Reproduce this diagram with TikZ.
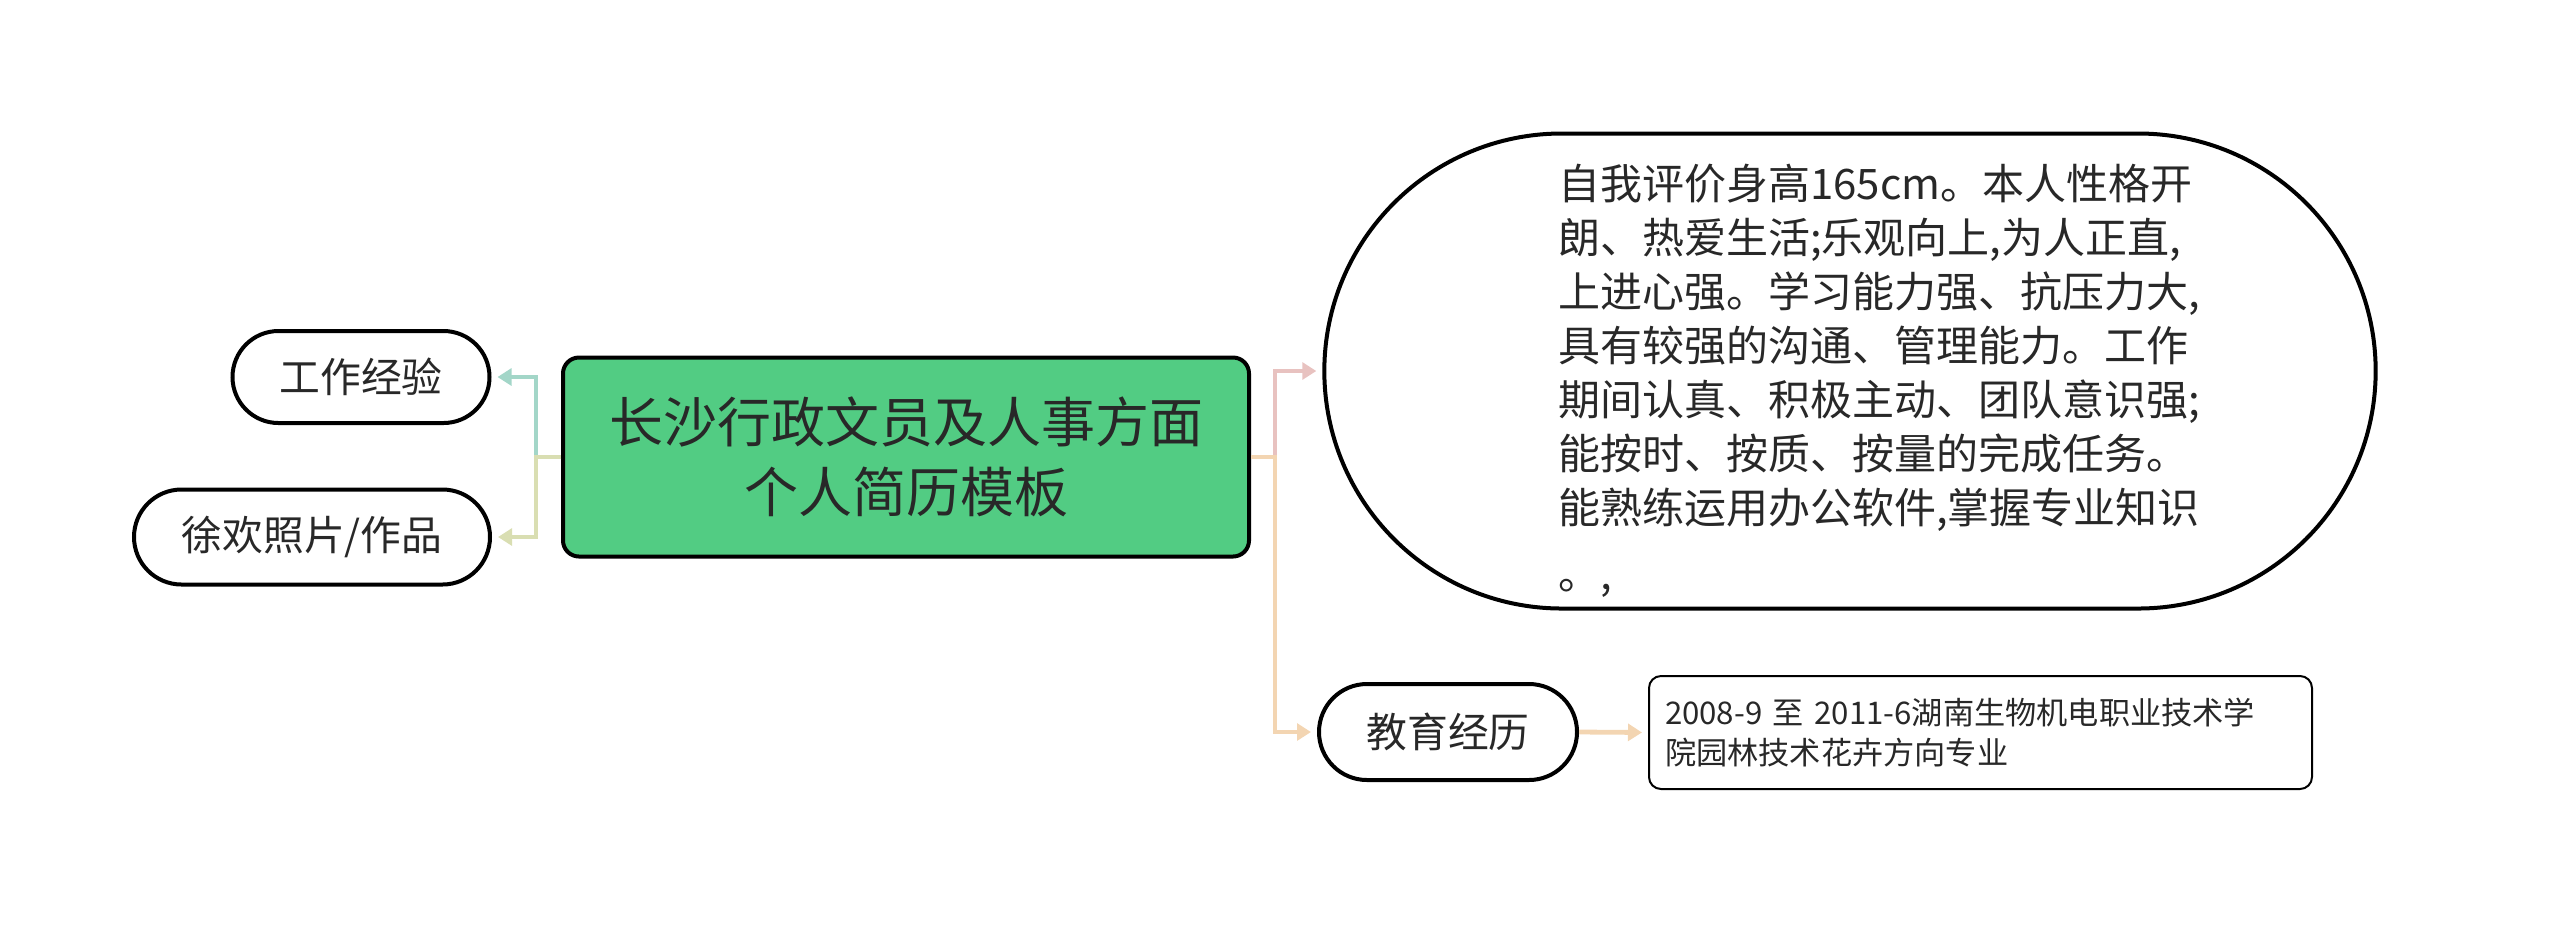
\documentclass[tikz,border=0pt]{standalone}
\usepackage{fontspec}
\setmainfont{Noto Sans CJK SC}
\usetikzlibrary{shapes.misc,arrows.meta}

\definecolor{maingreen}{RGB}{82,204,131}
\definecolor{linkteal}{RGB}{163,214,200}
\definecolor{linkkhaki}{RGB}{217,222,178}
\definecolor{linkpink}{RGB}{232,194,192}
\definecolor{linkpeach}{RGB}{243,213,178}
\definecolor{textgray}{RGB}{40,40,40}

\tikzset{every picture/.style={line width=1pt}}

\begin{document}
\begin{tikzpicture}[x=0.25pt,y=-0.25pt,
  pill/.style={rounded rectangle, draw=black, line width=1pt, fill=white, inner sep=0pt,
    text=textgray, font=\fontsize{10.2pt}{12pt}\selectfont},
  link/.style={line width=1.2pt, -{Triangle[length=3.5pt,width=4.2pt]}, shorten >=1.5pt}]
\useasboundingbox (0,0) rectangle (2560,924);

%Shape: central topic
\node [draw=black, line width=1pt, fill=maingreen, rounded corners=4pt, minimum width=171.5pt,
  minimum height=49.75pt, align=center, text=textgray, font=\fontsize{13.5pt}{17.5pt}\selectfont]
  (main) at (906,457) {长沙行政文员及人事方面\\个人简历模板};

%Shape: left branches
\node [pill, minimum width=64.25pt, minimum height=23pt] (work) at (361,377) {工作经验};
\node [pill, minimum width=89pt, minimum height=23.75pt] (photo) at (312,537) {徐欢照片/作品};

%Shape: right branches
\node [rounded rectangle, draw=black, line width=1pt, minimum width=269.5pt,
  minimum height=118.75pt] (eval) at (1850,371) {};
\node [align=left, inner sep=0pt, text=textgray, font=\fontsize{10.5pt}{13.5pt}\selectfont]
  (evaltext) at (1879,381) {自我评价身高165cm。本人性格开\\朗、热爱生活;乐观向上,为人正直,\\上进心强。学习能力强、抗压力大,\\具有较强的沟通、管理能力。工作\\期间认真、积极主动、团队意识强;\\能按时、按质、按量的完成任务。\\能熟练运用办公软件,掌握专业知识\\[3pt]。,};
\node [pill, minimum width=64.5pt, minimum height=24pt] (edu) at (1448,732) {教育经历};
\node [draw=black, line width=0.5pt, rounded corners=3pt, text width=157.75pt, inner sep=4pt,
  minimum height=28.25pt, align=left, text=textgray, font=\fontsize{7.8pt}{10.2pt}\selectfont]
  (eduinfo) at (1980.5,732.5) {2008-9 至 2011-6湖南生物机电职业技术学\\院园林技术花卉方向专业};

%Straight Lines: connectors
\draw [link, linkteal] (main.west) -- ++(-25,0) |- (work.east);
\draw [link, linkkhaki] (main.west) -- ++(-25,0) |- (photo.east);
\draw [link, linkpink] (main.east) -- ++(24,0) |- (eval.west);
\draw [link, linkpeach] (main.east) -- ++(24,0) |- (edu.west);
\draw [link, linkpeach] (edu.east) -- (eduinfo.west);

\end{tikzpicture}
\end{document}
